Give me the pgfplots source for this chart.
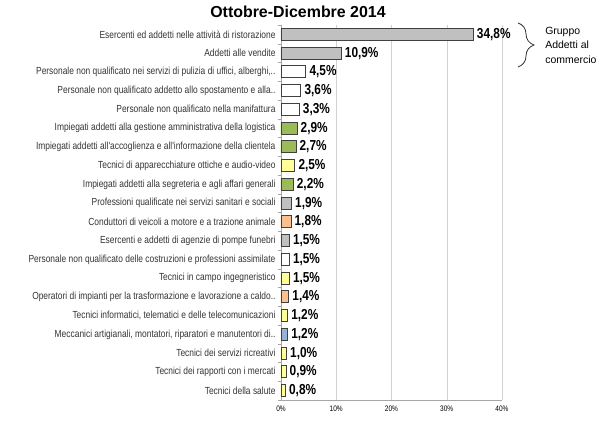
\documentclass[border=0pt]{standalone}
\usepackage{fontspec}
\setmainfont{Liberation Sans}
\newfontfamily\narrow{Liberation Sans}[FakeStretch=0.82]
\usepackage{pgfplots}
\pgfplotsset{compat=1.18}
\usetikzlibrary{decorations.pathreplacing}
\definecolor{bgray}{HTML}{C0C0C0}
\definecolor{bgreen}{HTML}{9BBB59}
\definecolor{byellow}{HTML}{FFFF99}
\definecolor{borange}{HTML}{FAC090}
\definecolor{bblue}{HTML}{95B3D7}
\definecolor{bedge}{HTML}{404040}

\begin{document}
\begin{tikzpicture}
\begin{axis}[
    scale only axis,
    width=221bp, height=375bp,
    xbar,
    bar width=0.64,
    xmin=0, xmax=40,
    ymin=0.5, ymax=20.5,
    y dir=reverse,
    /pgf/number format/assume math mode=true,
    axis x line=bottom,
    axis y line=left,
    axis line style={draw=gray!70, -},
    xtick={0,10,20,30,40},
    xticklabel={\pgfmathprintnumber{\tick}\%},
    x tick label style={font=\narrow\fontsize{8}{9}\selectfont, yshift=-2bp},
    xmajorgrids,
    grid style={draw=gray!35},
    ytick={1,...,20},
    minor ytick={0.5,1.5,...,20.5},
    major tick length=0pt,
    minor tick length=3bp,
    tick align=outside,
    tick style={draw=gray!70},
    yticklabels={
        Esercenti ed addetti nelle attività di ristorazione,
        Addetti alle vendite,
        {Personale non qualificato nei servizi di pulizia di uffici, alberghi,..},
        Personale non qualificato addetto allo spostamento e alla..,
        Personale non qualificato nella manifattura,
        Impiegati addetti alla gestione amministrativa della logistica,
        Impiegati addetti all'accoglienza e all'informazione della clientela,
        Tecnici di apparecchiature ottiche e audio-video,
        Impiegati addetti alla segreteria e agli affari generali,
        Professioni qualificate nei servizi sanitari e sociali,
        Conduttori di veicoli a motore e a trazione animale,
        Esercenti e addetti di agenzie di pompe funebri,
        Personale non qualificato delle costruzioni e professioni assimilate,
        Tecnici in campo ingegneristico,
        Operatori di impianti per la trasformazione e lavorazione a caldo..,
        {Tecnici informatici, telematici e delle telecomunicazioni},
        {Meccanici artigianali, montatori, riparatori e manutentori di..},
        Tecnici dei servizi ricreativi,
        Tecnici dei rapporti con i mercati,
        Tecnici della salute},
    y tick label style={font=\narrow\fontsize{10.3}{12}\selectfont, text=black!80, xshift=-2bp},
    point meta=x,
    nodes near coords={\pgfmathprintnumber[use comma,fixed,fixed zerofill,precision=1]{\pgfplotspointmeta}\%},
    nodes near coords style={font=\narrow\bfseries\fontsize{14.5}{16}\selectfont, text=black},
    every axis plot/.append style={bar shift=0pt, draw=bedge, line width=0.8bp},
    clip=false,
]
% gray
\addplot[fill=bgray] coordinates {(34.8,1) (10.9,2) (1.9,10) (1.5,12)};
% white
\addplot[fill=white] coordinates {(4.5,3) (3.6,4) (3.3,5) (1.5,13)};
% green
\addplot[fill=bgreen] coordinates {(2.9,6) (2.7,7) (2.2,9)};
% yellow
\addplot[fill=byellow] coordinates {(2.5,8) (1.5,14) (1.2,16) (1.0,18) (0.9,19) (0.8,20)};
% orange
\addplot[fill=borange] coordinates {(1.8,11) (1.4,15)};
% blue
\addplot[fill=bblue] coordinates {(1.2,17)};

% bracket for the first two rows
\draw[decorate, decoration={brace, amplitude=16bp}, draw=black!80, line width=0.8bp]
    (axis cs:42.9,0.39) -- (axis cs:42.9,2.74);
\node[anchor=north west, align=left, font=\fontsize{10.5}{14.5}\selectfont, inner sep=0pt]
    at (axis cs:47.8,0.6) {Gruppo\\Addetti al\\commercio};
\end{axis}
\node[font=\bfseries\fontsize{16}{18}\selectfont]
    at ([shift={(17bp,388bp)}]current axis.south west) {Ottobre-Dicembre 2014};
\path ([shift={(-281bp,-26bp)}]current axis.south west) rectangle ++(600bp,426bp);
\end{tikzpicture}
\end{document}
